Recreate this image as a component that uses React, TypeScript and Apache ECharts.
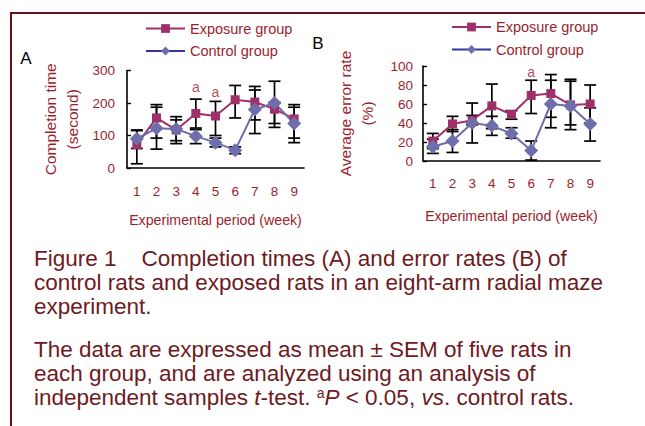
import React, { useEffect, useRef } from 'react';
import * as echarts from 'echarts';

const weeks = ['1', '2', '3', '4', '5', '6', '7', '8', '9'];

// Panel A: completion time (second)
const timeExposure = [72, 154, 117, 168, 160, 210, 203, 181, 151];
const timeExposureLow = [13, 92, 75, 123, 100, 154, 148, 125, 92];
const timeExposureHigh = [115, 195, 158, 212, 205, 254, 251, 202, 195];
const timeControl = [90, 122, 120, 98, 78, 55, 180, 200, 137];
const timeControlLow = [60, 58, 84, 75, 65, 44, 106, 137, 78];
const timeControlHigh = [117, 187, 148, 118, 92, 65, 240, 267, 187];
const timeSig = [[3, 248], [4, 233]];

// Panel B: average error rate (%)
const errExposure = [21, 39, 43, 58, 49, 69, 71, 59, 60];
const errExposureLow = [13, 31, 38, 34, 44, 50, 46, 33, 40];
const errExposureHigh = [29, 47, 48, 81, 53, 85, 91, 84, 80];
const errControl = [15, 21, 40, 37, 29, 11, 60, 58, 39];
const errControlLow = [8, 9, 19, 27, 24, 1, 35, 38, 21];
const errControlHigh = [23, 33, 61, 47, 35, 21, 85, 86, 56];
const errSig = [[5, 94]];

const FONT = '"Liberation Sans", Arial, sans-serif';
const RED = '#9a1e2e';
const CAP = '#6e1a22';
const EXP = '#a0306a';
const CTL = '#6e6eab';

const errRender = (params: any, api: any) => {
  const x = api.value(0);
  const lo = api.coord([x, api.value(1)]);
  const hi = api.coord([x, api.value(2)]);
  const w = 6;
  const style = { stroke: '#000', lineWidth: 1.7 };
  return {
    type: 'group',
    children: [
      { type: 'line', shape: { x1: lo[0], y1: lo[1], x2: hi[0], y2: hi[1] }, style },
      { type: 'line', shape: { x1: lo[0] - w, y1: lo[1], x2: lo[0] + w, y2: lo[1] }, style },
      { type: 'line', shape: { x1: hi[0] - w, y1: hi[1], x2: hi[0] + w, y2: hi[1] }, style },
    ],
  };
};

const errData = (lo: number[], hi: number[]) => lo.map((l, i) => [i, l, hi[i]]);

const xAxisBase = (gridIndex: number, labelMargin: number, nameGap: number) => ({
  type: 'category',
  gridIndex,
  data: weeks,
  boundaryGap: true,
  name: 'Experimental period (week)',
  nameLocation: 'middle',
  nameGap,
  nameTextStyle: { color: RED, fontSize: 14.2, fontFamily: FONT },
  axisLine: { lineStyle: { color: '#000', width: 1.6 } },
  axisTick: { inside: true, length: 4, interval: 0, lineStyle: { color: '#000', width: 1.4 } },
  axisLabel: { color: RED, fontSize: 13.5, fontFamily: FONT, margin: labelMargin, interval: 0 },
  splitLine: { show: false },
});

const yAxisBase = (gridIndex: number, max: number, interval: number, name: string, nameGap: number, labelMargin: number) => ({
  type: 'value',
  gridIndex,
  min: 0,
  max,
  interval,
  name,
  nameLocation: 'middle',
  nameRotate: 90,
  nameGap,
  nameTextStyle: { color: RED, fontSize: 15.5, lineHeight: 22, fontFamily: FONT },
  axisLine: { show: true, lineStyle: { color: '#000', width: 1.6 } },
  axisTick: { show: true, inside: true, length: 4, lineStyle: { color: '#000', width: 1.4 } },
  axisLabel: { color: RED, fontSize: 13.5, fontFamily: FONT, margin: labelMargin },
  splitLine: { show: false },
});

const lineSeries = (name: string, data: number[], idx: number, color: string, symbol: string, size: number) => ({
  type: 'line',
  name,
  xAxisIndex: idx,
  yAxisIndex: idx,
  data,
  symbol,
  symbolSize: size,
  showSymbol: true,
  lineStyle: { color, width: 2 },
  itemStyle: { color },
  z: 5,
});

const sigSeries = (data: number[][], idx: number) => ({
  type: 'scatter',
  xAxisIndex: idx,
  yAxisIndex: idx,
  data,
  symbolSize: 1,
  itemStyle: { color: 'rgba(0,0,0,0)' },
  label: { show: true, formatter: 'a', position: 'inside', color: RED, fontSize: 14, fontFamily: FONT },
  z: 6,
});

const errSeries = (lo: number[], hi: number[], idx: number) => ({
  type: 'custom',
  xAxisIndex: idx,
  yAxisIndex: idx,
  renderItem: errRender,
  data: errData(lo, hi),
  encode: { x: 0, y: [1, 2] },
  z: 3,
});

const legendBase = (left: number, top: number) => ({
  orient: 'vertical',
  left,
  top,
  itemWidth: 39,
  itemHeight: 11,
  itemGap: 7.5,
  selectedMode: false,
  textStyle: { color: RED, fontSize: 14.5, fontFamily: FONT },
  data: [
    { name: 'Exposure group' },
    { name: 'Control group', lineStyle: { color: '#3535a0' } },
  ],
});

const paragraph2 =
  'The data are expressed as mean \u00b1 SEM of five rats in\n' +
  'each group, and are analyzed using an analysis of\n' +
  '{n|independent samples }{i|t}{n|-test. }{s|a}{i|P}{n| < 0.05, }{i|vs}{n|. control rats.}';

const option: any = {
  animation: false,
  backgroundColor: '#fff',
  textStyle: { fontFamily: FONT },
  grid: [
    { left: 127, top: 70.5, width: 177, height: 97.5 },
    { left: 423, top: 66, width: 177, height: 95 },
  ],
  xAxis: [xAxisBase(0, 16.5, 44.5), xAxisBase(1, 15, 47.5)],
  yAxis: [
    yAxisBase(0, 300, 100, 'Completion time\n(second)', 43.5, 12),
    yAxisBase(1, 100, 20, 'Average error rate\n(%)', 45, 10),
  ],
  legend: [legendBase(140, 16), legendBase(446, 14.5)],
  series: [
    errSeries(timeExposureLow, timeExposureHigh, 0),
    errSeries(timeControlLow, timeControlHigh, 0),
    lineSeries('Exposure group', timeExposure, 0, EXP, 'rect', 9),
    lineSeries('Control group', timeControl, 0, CTL, 'diamond', 14),
    sigSeries(timeSig, 0),
    errSeries(errExposureLow, errExposureHigh, 1),
    errSeries(errControlLow, errControlHigh, 1),
    lineSeries('Exposure group', errExposure, 1, EXP, 'rect', 9),
    lineSeries('Control group', errControl, 1, CTL, 'diamond', 14),
    sigSeries(errSig, 1),
  ],
  graphic: [
    { type: 'line', shape: { x1: 11, y1: 13, x2: 645, y2: 13 }, style: { stroke: '#6b0f1a', lineWidth: 2 } },
    { type: 'line', shape: { x1: 11, y1: 12, x2: 11, y2: 426 }, style: { stroke: '#6b0f1a', lineWidth: 2 } },
    {
      type: 'text', x: 26, y: 58,
      style: { text: 'A', fill: '#000', fontSize: 17, fontFamily: FONT, align: 'center', verticalAlign: 'middle', textAlign: 'center', textVerticalAlign: 'middle' },
    },
    {
      type: 'text', x: 318, y: 43,
      style: { text: 'B', fill: '#000', fontSize: 17, fontFamily: FONT, align: 'center', verticalAlign: 'middle', textAlign: 'center', textVerticalAlign: 'middle' },
    },
    {
      type: 'text', x: 34, y: 246,
      style: {
        text: 'Figure 1    Completion times (A) and error rates (B) of\ncontrol rats and exposed rats in an eight-arm radial maze\nexperiment.',
        fill: CAP, fontSize: 22.5, fontFamily: FONT, lineHeight: 24,
        align: 'left', verticalAlign: 'top', textAlign: 'left', textVerticalAlign: 'top',
      },
    },
    {
      type: 'text', x: 34, y: 337.5,
      style: {
        text: paragraph2,
        fill: CAP, fontSize: 22.5, fontFamily: FONT, lineHeight: 24,
        align: 'left', verticalAlign: 'top', textAlign: 'left', textVerticalAlign: 'top',
        rich: {
          n: { fill: CAP, color: CAP, fontSize: 22.5, fontFamily: FONT, lineHeight: 24 },
          i: { fill: CAP, color: CAP, fontSize: 22.5, fontFamily: FONT, fontStyle: 'italic', lineHeight: 24 },
          s: { fill: CAP, color: CAP, fontSize: 14, fontFamily: FONT, verticalAlign: 'top', lineHeight: 14 },
        },
      },
    },
  ],
};

export default function App() {
  const ref = useRef<HTMLDivElement>(null);
  useEffect(() => {
    const chart = echarts.init(ref.current!, null, { renderer: 'svg' });
    chart.setOption(option);
    return () => chart.dispose();
  }, []);
  return (
    <div
      ref={ref}
      style={{ position: 'fixed', left: 0, top: 0, width: 645, height: 426, background: '#fff' }}
    />
  );
}
